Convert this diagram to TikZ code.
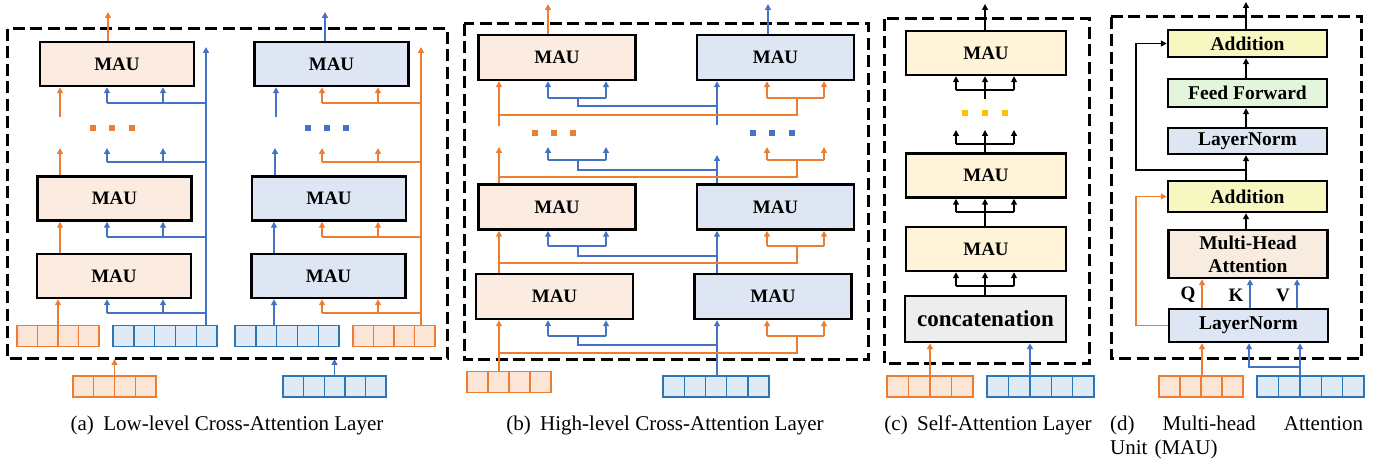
\documentclass[tikz,border=0pt]{standalone}
\usepackage{fontspec}
\setmainfont{Liberation Serif}
\usetikzlibrary{arrows.meta,calc}
\definecolor{ocol}{HTML}{ED7D31}
\definecolor{bcol}{HTML}{4472C4}
\definecolor{vofill}{HTML}{FBE5D6}
\definecolor{vbfill}{HTML}{DEEBF7}
\definecolor{vbdraw}{HTML}{2E75B6}
\definecolor{maufo}{HTML}{FBEBE1}
\definecolor{maufb}{HTML}{DEE6F3}
\definecolor{maufy}{HTML}{FFF4D7}
\definecolor{concfill}{HTML}{EDEDED}
\definecolor{addfill}{HTML}{F7F7C1}
\definecolor{fffill}{HTML}{E3F5DA}
\definecolor{mhafill}{HTML}{F8ECE1}
\definecolor{dotyel}{HTML}{FFC000}
\tikzset{
  tip/.style={-{Triangle[width=6pt,length=6pt]}},
  ol/.style={draw=ocol, line width=1.4pt},
  bl/.style={draw=bcol, line width=1.4pt},
  kl/.style={draw=black, line width=1.3pt},
  oarr/.style={ol, tip},
  barr/.style={bl, tip},
  karr/.style={kl, tip},
  dbox/.style={draw=black, line width=3pt, dash pattern=on 12pt off 5.5pt},
  blk/.style={draw=black, line width=2.5pt, inner sep=0pt, font=\bfseries\fontsize{19}{22}\selectfont},
  mau/.style={blk, minimum width=154pt, minimum height=44pt},
  mauo/.style={fill=maufo},
  maub/.style={fill=maufb},
  vecstyle/.style={line width=1.4pt, minimum height=21pt, inner sep=0pt, outer sep=0pt},
  veco/.style={vecstyle, draw=ocol, fill=vofill},
  vecb/.style={vecstyle, draw=vbdraw, fill=vbfill},
  veclineo/.style={draw=ocol, line width=1.4pt},
  veclineb/.style={draw=vbdraw, line width=1.4pt},
  sq/.style={minimum size=6pt, inner sep=0pt, outer sep=0pt},
  captext/.style={anchor=base, font=\fontsize{21}{24}\selectfont, inner sep=0pt},
}
\newcommand\mkvec[5]{%
  \node[vec#4, minimum width=#5pt] (#1) at (#2) {};
  \pgfmathsetmacro\cw{#5/#3}%
  \pgfmathtruncatemacro\nm{#3-1}%
  \foreach \i in {1,...,\nm} {\draw[vecline#4] ($(#1.north west)+(\i*\cw,0)$) -- ($(#1.south west)+(\i*\cw,0)$);}%
}
\newcommand\abranch[6]{%
  \draw[#1] (#3) -- (#4 |- #3);
  \draw[#2] (#4 |- #3) -- (#4 |- #6);
  \draw[#2] (#5 |- #3) -- (#5 |- #6);
}
\newcommand\blevel[5]{%
  \draw[ol] (xo |- #1) -- (xoj |- #1) -- (xoj |- #2);
  \draw[ol] (xo1 |- #2) -- (xo2 |- #2);
  \draw[oarr] (xo1 |- #2) -- (xo1 |- #4);
  \draw[oarr] (xo2 |- #2) -- (xo2 |- #4);
  \draw[bl] (xb |- #3) -- (xbj |- #3) -- (xbj |- #2);
  \draw[bl] (xb1 |- #2) -- (xb2 |- #2);
  \draw[barr] (xb1 |- #2) -- (xb1 |- #5);
  \draw[barr] (xb2 |- #2) -- (xb2 |- #5);
}
\newcommand\clevel[3]{%
  \draw[karr] (xc |- #1) -- (xc |- #2);
  \draw[kl] (xc1 |- #3) -- (xc2 |- #3);
  \draw[karr] (xc1 |- #3) -- (xc1 |- #2);
  \draw[karr] (xc2 |- #3) -- (xc2 |- #2);
}
\begin{document}
\begin{tikzpicture}[x=1pt,y=-1pt]
\useasboundingbox (0,0) rectangle (1385,462);

% ================= (a) =================
\draw[dbox] (7,29) rectangle (447,359);
\coordinate (aBB) at (0,359);
\node[mau, mauo] (a1) at (117,64) {MAU};
\node[mau, mauo] (a2) at (114.5,198.5) {MAU};
\node[mau, mauo] (a3) at (114,276) {MAU};
\node[mau, maub] (b1) at (331.5,64) {MAU};
\node[mau, maub] (b2) at (329,198.5) {MAU};
\node[mau, maub] (b3) at (328.5,276) {MAU};
\mkvec{vo1}{58,336}{4}{o}{82}
\mkvec{vb1}{165,336}{5}{b}{104}
\mkvec{vb2}{287,336}{5}{b}{104}
\mkvec{vo2}{394,336}{4}{o}{82}
\mkvec{vo3}{114.5,386.5}{4}{o}{83}
\mkvec{vb3}{334.5,386.5}{5}{b}{103}
% left column (orange main)
\coordinate (xa) at (60,0);
\coordinate (aU) at (60,148);
\coordinate (aL) at (60,117);
\coordinate (aO) at (108,12);
\coordinate (yT) at (0,148);
\draw[oarr] (vo1.north) -- (vo1.north |- a3.south);
\draw[oarr] (xa |- a3.north) -- (xa |- a2.south);
\draw[oarr] (xa |- a2.north) -- (aU);
\draw[oarr] (aL) -- (aL |- a1.south);
\draw[oarr] (aO |- a1.north) -- (aO);
% left column (blue cross)
\coordinate (aBx) at (206,47);
\draw[barr] (aBx |- vb1.north) -- (aBx);
\coordinate (xb1) at (107,0);
\coordinate (xb2) at (163,0);
\coordinate (ab1) at (206,313);
\coordinate (ab2) at (206,237);
\coordinate (ab3) at (206,162);
\coordinate (ab4) at (206,103);
\abranch{bl}{barr}{ab1}{xb1}{xb2}{a3.south}
\abranch{bl}{barr}{ab2}{xb1}{xb2}{a2.south}
\abranch{bl}{barr}{ab3}{xb1}{xb2}{yT}
\abranch{bl}{barr}{ab4}{xb1}{xb2}{a1.south}
\node[sq, fill=ocol] (ad1) at (93,128) {};
\node[sq, fill=ocol] (ad2) at (112,128) {};
\node[sq, fill=ocol] (ad3) at (132,128) {};
% right column (blue main)
\coordinate (xr) at (274,0);
\coordinate (bU) at (275,148);
\coordinate (bL) at (276,117);
\coordinate (bO) at (325,12);
\draw[barr] (xr |- vb2.north) -- (xr |- b3.south);
\draw[barr] (xr |- b3.north) -- (xr |- b2.south);
\draw[barr] (bU |- b2.north) -- (bU);
\draw[barr] (bL) -- (bL |- b1.south);
\draw[barr] (bO |- b1.north) -- (bO);
% right column (orange cross)
\coordinate (bOx) at (421,47);
\draw[oarr] (bOx |- vo2.north) -- (bOx);
\coordinate (xo1a) at (322,0);
\coordinate (xo2a) at (378,0);
\coordinate (bb1) at (421,313);
\coordinate (bb2) at (421,237);
\coordinate (bb3) at (421,162);
\coordinate (bb4) at (421,103);
\abranch{ol}{oarr}{bb1}{xo1a}{xo2a}{b3.south}
\abranch{ol}{oarr}{bb2}{xo1a}{xo2a}{b2.south}
\abranch{ol}{oarr}{bb3}{xo1a}{xo2a}{yT}
\abranch{ol}{oarr}{bb4}{xo1a}{xo2a}{b1.south}
\node[sq, fill=bcol] (bd1) at (308,128) {};
\node[sq, fill=bcol] (bd2) at (327,128) {};
\node[sq, fill=bcol] (bd3) at (346,128) {};
% inputs from outside
\draw[oarr] (vo3.north) -- (vo3.north |- aBB);
\draw[barr] (vb3.north) -- (vb3.north |- aBB);
\node[captext] (capa) at (227,431) {(a)\hspace{0.45em}Low-level Cross-Attention Layer};

% ================= (b) =================
\draw[dbox] (464,24) rectangle (868,360);
\node[mau, mauo, minimum width=157pt, minimum height=45pt] (c1) at (557,57.5) {MAU};
\node[mau, mauo, minimum width=157pt, minimum height=45pt] (c2) at (557,207) {MAU};
\node[mau, mauo, minimum width=157pt, minimum height=45pt] (c3) at (554.5,296.5) {MAU};
\node[mau, maub, minimum width=157pt, minimum height=45pt] (d1) at (775.5,57.5) {MAU};
\node[mau, maub, minimum width=157pt, minimum height=45pt] (d2) at (775.5,207) {MAU};
\node[mau, maub, minimum width=157pt, minimum height=45pt] (d3) at (773,296.5) {MAU};
\mkvec{vo4}{509,382}{4}{o}{84}
\mkvec{vb4}{716,386.5}{5}{b}{106}
\coordinate (xo) at (499,0);
\coordinate (xb) at (717,0);
\coordinate (xoj) at (797,0);
\coordinate (xo1) at (767,0);
\coordinate (xo2) at (824,0);
\coordinate (xbj) at (578,0);
\coordinate (xb1) at (548,0);
\coordinate (xb2) at (606,0);
% trunks
\draw[oarr] (xo |- vo4.north) -- (xo |- c3.south);
\draw[barr] (xb |- vb4.north) -- (xb |- d3.south);
\draw[oarr] (xo |- c3.north) -- (xo |- c2.south);
\draw[barr] (xb |- d3.north) -- (xb |- d2.south);
\coordinate (bT) at (0,147);
\coordinate (bTb) at (0,155);
\draw[oarr] (xo |- c2.north) -- (xo |- bT);
\draw[barr] (xb |- d2.north) -- (xb |- bTb);
\coordinate (bS1) at (499,126);
\coordinate (bS2) at (717,125);
\draw[oarr] (bS1) -- (bS1 |- c1.south);
\draw[barr] (bS2) -- (bS2 |- d1.south);
% branch levels
\coordinate (yo1) at (0,353);
\coordinate (yh1) at (0,336);
\coordinate (yb1) at (0,345);
\blevel{yo1}{yh1}{yb1}{d3.south}{c3.south}
\coordinate (yo2) at (0,263);
\coordinate (yh2) at (0,246);
\coordinate (yb2) at (0,256);
\blevel{yo2}{yh2}{yb2}{d2.south}{c2.south}
\coordinate (yo3) at (0,177);
\coordinate (yh3) at (0,160);
\coordinate (yb3) at (0,170);
\blevel{yo3}{yh3}{yb3}{bT}{bT}
\coordinate (yo4) at (0,115);
\coordinate (yh4) at (0,98);
\coordinate (yb4) at (0,106);
\blevel{yo4}{yh4}{yb4}{d1.south}{c1.south}
\coordinate (cO) at (548,4);
\coordinate (dO) at (768,4);
\draw[oarr] (cO |- c1.north) -- (cO);
\draw[barr] (dO |- d1.north) -- (dO);
\node[sq, fill=ocol] (cd1) at (535,133) {};
\node[sq, fill=ocol] (cd2) at (554,133) {};
\node[sq, fill=ocol] (cd3) at (573,133) {};
\node[sq, fill=bcol] (dd1) at (753,133) {};
\node[sq, fill=bcol] (dd2) at (772,133) {};
\node[sq, fill=bcol] (dd3) at (792,133) {};
\node[captext] (capb) at (665,431) {(b)\hspace{0.45em}High-level Cross-Attention Layer};

% ================= (c) =================
\draw[dbox] (884,19) rectangle (1089,364);
\node[blk, fill=maufy, minimum width=160pt, minimum height=44pt] (e1) at (986,53) {MAU};
\node[blk, fill=maufy, minimum width=160pt, minimum height=44pt] (e2) at (986,175.5) {MAU};
\node[blk, fill=maufy, minimum width=160pt, minimum height=44pt] (e3) at (986,249) {MAU};
\node[blk, fill=concfill, minimum width=161pt, minimum height=46pt, font=\bfseries\fontsize{23}{26}\selectfont] (cc) at (985.5,319) {concatenation};
\mkvec{vo5}{930,386.5}{4}{o}{86}
\mkvec{vb5}{1040.5,386.5}{5}{b}{107}
\coordinate (xc) at (985,0);
\coordinate (xc1) at (956,0);
\coordinate (xc2) at (1014,0);
\coordinate (cy1) at (0,286);
\coordinate (cy2) at (0,212);
\coordinate (cy3) at (0,144);
\coordinate (cy4) at (0,90);
\coordinate (cT) at (0,130);
\coordinate (cS) at (0,99);
\clevel{cc.north}{e3.south}{cy1}
\clevel{e3.north}{e2.south}{cy2}
\clevel{e2.north}{cT}{cy3}
\clevel{cS}{e1.south}{cy4}
\coordinate (eO) at (985,4);
\draw[karr] (eO |- e1.north) -- (eO);
\node[sq, fill=dotyel] (ed1) at (965,113) {};
\node[sq, fill=dotyel] (ed2) at (985,113) {};
\node[sq, fill=dotyel] (ed3) at (1005,113) {};
\draw[oarr] (vo5.north) -- (vo5.north |- cc.south);
\coordinate (xcb) at (1030,0);
\draw[barr] (xcb |- vb5.north) -- (xcb |- cc.south);
\node[captext] (capc) at (988,431) {(c)\hspace{0.45em}Self-Attention Layer};

% ================= (d) =================
\draw[dbox] (1111,17) rectangle (1361,359);
\tikzset{dl/.style={blk, minimum width=159pt, font=\bfseries\fontsize{19.5}{22}\selectfont}}
\node[dl, fill=addfill, minimum height=27pt] (f1) at (1247.5,43.5) {Addition};
\node[dl, fill=fffill, minimum height=28pt] (f2) at (1247.5,93) {Feed Forward};
\node[dl, fill=maufb, minimum height=26pt] (f3) at (1247.5,141) {LayerNorm};
\node[dl, fill=addfill, minimum height=31pt] (f4) at (1247.5,196.5) {Addition};
\node[dl, fill=mhafill, minimum height=48pt, align=center, font=\bfseries\fontsize{19.5}{23}\selectfont] (f5) at (1248,254) {Multi-Head\\Attention};
\node[dl, fill=maufb, minimum height=33pt] (f6) at (1248.5,325.5) {LayerNorm};
\mkvec{vo6}{1201,386.5}{4}{o}{84}
\mkvec{vb6}{1310.5,386.5}{5}{b}{107}
\coordinate (xd) at (1246,0);
\coordinate (fO) at (1246,2);
\draw[karr] (fO |- f1.north) -- (fO);
\draw[karr] (xd |- f2.north) -- (xd |- f1.south);
\draw[karr] (xd |- f3.north) -- (xd |- f2.south);
\draw[karr] (xd |- f4.north) -- (xd |- f3.south);
\draw[karr] (xd |- f5.north) -- (xd |- f4.south);
\coordinate (dr1) at (1246,170);
\coordinate (dr2) at (1136,0);
\draw[karr] (dr1) -- (dr2 |- dr1) -- (dr2 |- f1.west) -- (f1.west);
\draw[oarr] (f6.west) -- (dr2 |- f6.west) -- (dr2 |- f4.west) -- (f4.west);
\coordinate (xq) at (1202,0);
\coordinate (xk) at (1250,0);
\coordinate (xv) at (1297,0);
\draw[oarr] (xq |- f6.north) -- (xq |- f5.south);
\draw[barr] (xk |- f6.north) -- (xk |- f5.south);
\draw[barr] (xv |- f6.north) -- (xv |- f5.south);
\node[font=\bfseries\fontsize{19}{22}\selectfont, inner sep=0pt] (lq) at (1188,295) {Q};
\node[font=\bfseries\fontsize{19}{22}\selectfont, inner sep=0pt] (lk) at (1236,295) {K};
\node[font=\bfseries\fontsize{19}{22}\selectfont, inner sep=0pt] (lv) at (1283,295) {V};
\draw[oarr] (xq |- vo6.north) -- (xq |- f6.south);
\coordinate (xvi) at (1300,0);
\coordinate (xki) at (1249,0);
\coordinate (dy) at (0,367);
\draw[barr] (xvi |- vb6.north) -- (xvi |- f6.south);
\draw[barr] (xvi |- dy) -- (xki |- dy) -- (xki |- f6.south);
\node[anchor=base west, inner sep=0pt, text width=253pt, align=left, font=\fontsize{21}{24}\selectfont] (capd) at (1110,431) {(d)\hfill Multi-head\hfill Attention\\Unit (MAU)};
\end{tikzpicture}
\end{document}
